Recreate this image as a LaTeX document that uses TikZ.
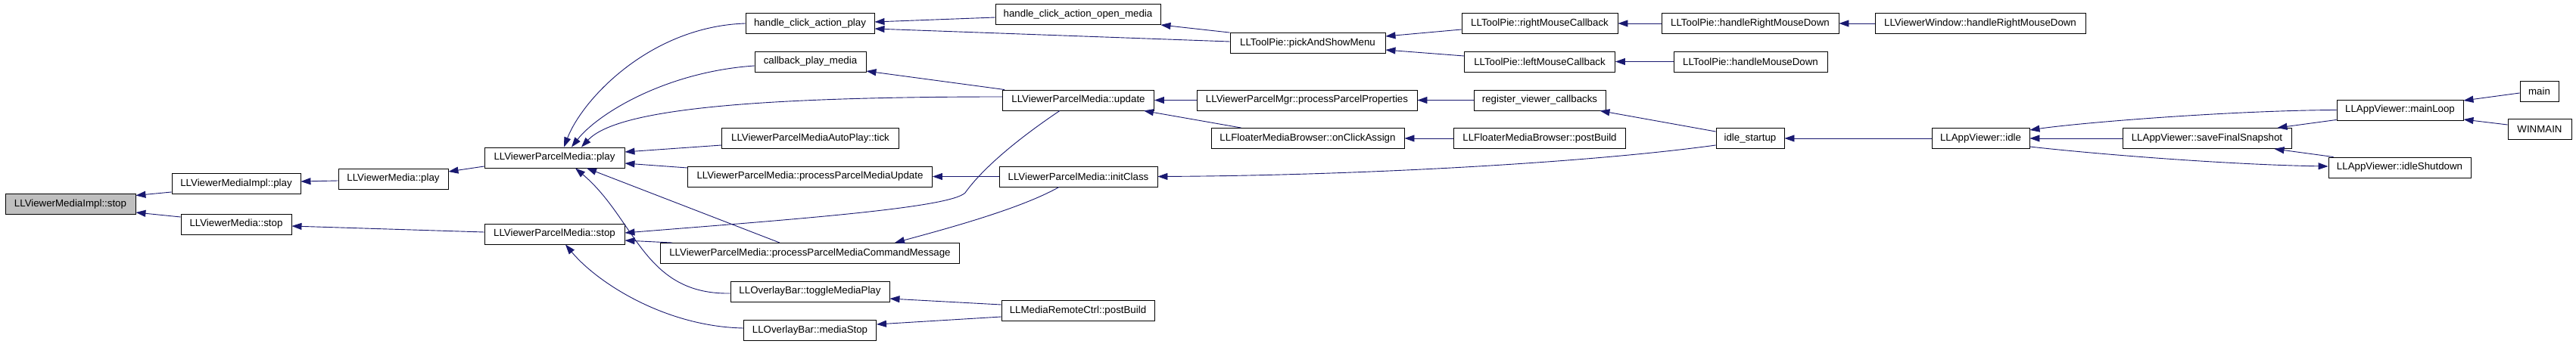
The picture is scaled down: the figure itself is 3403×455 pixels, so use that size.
\documentclass[tikz,border=0pt]{standalone}
\usepackage{fontspec}
\setmainfont{Liberation Sans}
\usepackage{xcolor}
\usetikzlibrary{arrows.meta}
\definecolor{edgeblue}{HTML}{191970}
\definecolor{rootgray}{HTML}{BFBFBF}

\begin{document}
\begin{tikzpicture}[x=1pt,y=-1pt,
        fn/.style={draw=black, line width=0.9pt, fill=white, inner sep=0pt,
            minimum height=27pt, font=\fontsize{13.3}{16}\selectfont},
        call/.style={draw=edgeblue, line width=0.9pt, {Triangle[length=13pt,width=9pt]}-}]
        \fill [white] (0,0) rectangle (3403,455);
        \useasboundingbox (0,0) rectangle (3403,455);
        \node [fn, fill=rootgray, minimum width=172pt] (stop) at (93,270) {LLViewerMediaImpl::stop};
        \node [fn, minimum width=170pt] (implplay) at (312,243) {LLViewerMediaImpl::play};
        \node [fn, minimum width=146pt] (mediastop) at (312,296.5) {LLViewerMedia::stop};
        \node [fn, minimum width=145pt] (mediaplay) at (519.5,236.5) {LLViewerMedia::play};
        \node [fn, minimum width=185pt] (pmplay) at (732.5,208.5) {LLViewerParcelMedia::play};
        \node [fn, minimum width=185pt] (pmstop) at (732.5,309.5) {LLViewerParcelMedia::stop};
        \node [fn, minimum width=170pt] (hcaplay) at (1070,31) {handle\_click\_action\_play};
        \node [fn, minimum width=147pt] (cbplay) at (1070.5,81.5) {callback\_play\_media};
        \node [fn, minimum width=234pt] (autotick) at (1070.5,183) {LLViewerParcelMediaAutoPlay::tick};
        \node [fn, minimum width=323pt] (pmupd) at (1070,233.5) {LLViewerParcelMedia::processParcelMediaUpdate};
        \node [fn, minimum width=395pt] (cmdmsg) at (1070,335) {LLViewerParcelMedia::processParcelMediaCommandMessage};
        \node [fn, minimum width=210pt] (toggle) at (1070,385.5) {LLOverlayBar::toggleMediaPlay};
        \node [fn, minimum width=175pt] (ovstop) at (1070,437) {LLOverlayBar::mediaStop};
        \node [fn, minimum width=218pt] (openmedia) at (1424,19) {handle\_click\_action\_open\_media};
        \node [fn, minimum width=200pt] (update) at (1424.5,132.5) {LLViewerParcelMedia::update};
        \node [fn, minimum width=209pt] (initclass) at (1424.5,233.5) {LLViewerParcelMedia::initClass};
        \node [fn, minimum width=202pt] (remote) at (1424,411) {LLMediaRemoteCtrl::postBuild};
        \node [fn, minimum width=205pt] (pick) at (1727.5,57) {LLToolPie::pickAndShowMenu};
        \node [fn, minimum width=291pt] (props) at (1726.5,132.5) {LLViewerParcelMgr::processParcelProperties};
        \node [fn, minimum width=255pt] (assign) at (1727.5,183) {LLFloaterMediaBrowser::onClickAssign};
        \node [fn, minimum width=206pt] (rmc) at (2034,31) {LLToolPie::rightMouseCallback};
        \node [fn, minimum width=199pt] (lmc) at (2034,81.5) {LLToolPie::leftMouseCallback};
        \node [fn, minimum width=174pt] (register) at (2034,132.5) {register\_viewer\_callbacks};
        \node [fn, minimum width=227pt] (fmbpost) at (2034,183) {LLFloaterMediaBrowser::postBuild};
        \node [fn, minimum width=234pt] (hrmd) at (2312,31) {LLToolPie::handleRightMouseDown};
        \node [fn, minimum width=203pt] (hmd) at (2312.5,81.5) {LLToolPie::handleMouseDown};
        \node [fn, minimum width=90pt] (idlestart) at (2312,183) {idle\_startup};
        \node [fn, minimum width=278pt] (vwhrmd) at (2616,31) {LLViewerWindow::handleRightMouseDown};
        \node [fn, minimum width=129pt] (idle) at (2616.5,183) {LLAppViewer::idle};
        \node [fn, minimum width=223pt] (snapshot) at (2915.5,183) {LLAppViewer::saveFinalSnapshot};
        \node [fn, minimum width=167pt] (mainloop) at (3170.5,145.5) {LLAppViewer::mainLoop};
        \node [fn, minimum width=188pt] (shutdown) at (3170,221.5) {LLAppViewer::idleShutdown};
        \node [fn, minimum width=51pt] (main) at (3354.5,120.5) {main};
        \node [fn, minimum width=84pt] (winmain) at (3355,171) {WINMAIN};
        \draw [call] ([yshift=11.5pt]stop.east) -- ([yshift=-11pt]implplay.west);
        \draw [call] ([yshift=-11pt]stop.east) -- ([yshift=9.5pt]mediastop.west);
        \draw [call] ([yshift=3pt]implplay.east) -- ([yshift=-2.5pt]mediaplay.west);
        \draw [call] ([yshift=9.5pt]mediaplay.east) -- ([yshift=-11.5pt]pmplay.west);
        \draw [call] ([yshift=-2.5pt]mediastop.east) -- ([yshift=2.5pt]pmstop.west);
        \draw [call] ([xshift=12.5pt]pmplay.north) .. controls (770,130) and (860,35) .. (hcaplay.west);
        \draw [call] ([xshift=22.5pt]pmplay.north) .. controls (790,150) and (880,95) .. ([yshift=-5.5pt]cbplay.west);
        \draw [call] ([xshift=35.5pt]pmplay.north) .. controls (810,150) and (950,128) .. ([yshift=4.5pt]update.west);
        \draw [call] ([yshift=7.5pt]pmplay.east) -- ([yshift=-9pt]autotick.west);
        \draw [call] ([yshift=-7.5pt]pmplay.east) -- ([yshift=11.5pt]pmupd.west);
        \draw [call] ([xshift=27.5pt]pmplay.south) .. controls (840,290) and (850,390) .. ([yshift=-2.5pt]toggle.west);
        \draw [call] ([xshift=42.5pt]pmplay.south) -- ([xshift=-40pt]cmdmsg.north);
        \draw [call] ([yshift=1.5pt]pmstop.east) .. controls (1050,290) and (1255,275) .. (1275,255)
            .. controls (1300,220) and (1350,180) .. ([xshift=-24.5pt]update.south);
        \draw [call] ([yshift=-8.5pt]pmstop.east) -- ([xshift=16pt]cmdmsg.north west);
        \draw [call] ([xshift=14.5pt]pmstop.south) .. controls (790,375) and (880,432) .. ([yshift=3pt]ovstop.west);
        \draw [call] ([yshift=2pt]hcaplay.east) -- ([yshift=-4pt]openmedia.west);
        \draw [call] ([yshift=-7pt]hcaplay.east) -- ([yshift=2pt]pick.west);
        \draw [call] (openmedia.south east) -- (pick.north west);
        \draw [call] ([yshift=-12.5pt]cbplay.east) -- ([xshift=3pt]update.north west);
        \draw [call] (update.east) -- (props.west);
        \draw [call] ([xshift=-14pt]update.south east) -- ([xshift=40pt]assign.north west);
        \draw [call] (pmupd.east) -- (initclass.west);
        \draw [call] ([xshift=112pt]cmdmsg.north) .. controls (1260,300) and (1350,275) .. ([xshift=-25.5pt]initclass.south);
        \draw [call] ([yshift=-9.5pt]toggle.east) -- ([yshift=8pt]remote.west);
        \draw [call] ([yshift=8pt]ovstop.east) -- ([yshift=-8pt]remote.west);
        \draw [call] ([yshift=9pt]pick.east) -- ([yshift=-8pt]rmc.west);
        \draw [call] ([yshift=-9pt]pick.east) -- ([yshift=7.5pt]lmc.west);
        \draw [call] (rmc.east) -- (hrmd.west);
        \draw [call] (lmc.east) -- (hmd.west);
        \draw [call] (hrmd.east) -- (vwhrmd.west);
        \draw [call] (props.east) -- (register.west);
        \draw [call] (assign.east) -- (fmbpost.west);
        \draw [call] ([xshift=-8pt]register.south east) -- ([yshift=9pt]idlestart.west);
        \draw [call] (initclass.east) .. controls (1800,232) and (2100,215) .. ([yshift=-9pt]idlestart.west);
        \draw [call] (idlestart.east) -- (idle.west);
        \draw [call] ([yshift=11pt]idle.east) .. controls (2750,162) and (2950,146) .. (mainloop.west);
        \draw [call] (idle.east) -- (snapshot.west);
        \draw [call] ([yshift=1.5pt]shutdown.west) .. controls (2950,218) and (2780,205) .. ([yshift=-11pt]idle.east);
        \draw [call] ([yshift=12.5pt]mainloop.east) -- ([yshift=-2.5pt]main.west);
        \draw [call] ([yshift=-12.5pt]mainloop.east) -- ([yshift=6pt]winmain.west);
        \draw [call] ([xshift=-19pt]snapshot.north east) -- ([yshift=1pt]mainloop.south west);
        \draw [call] ([xshift=-23pt]snapshot.south east) -- ([xshift=7pt]shutdown.north west);
    \end{tikzpicture}
\end{document}
